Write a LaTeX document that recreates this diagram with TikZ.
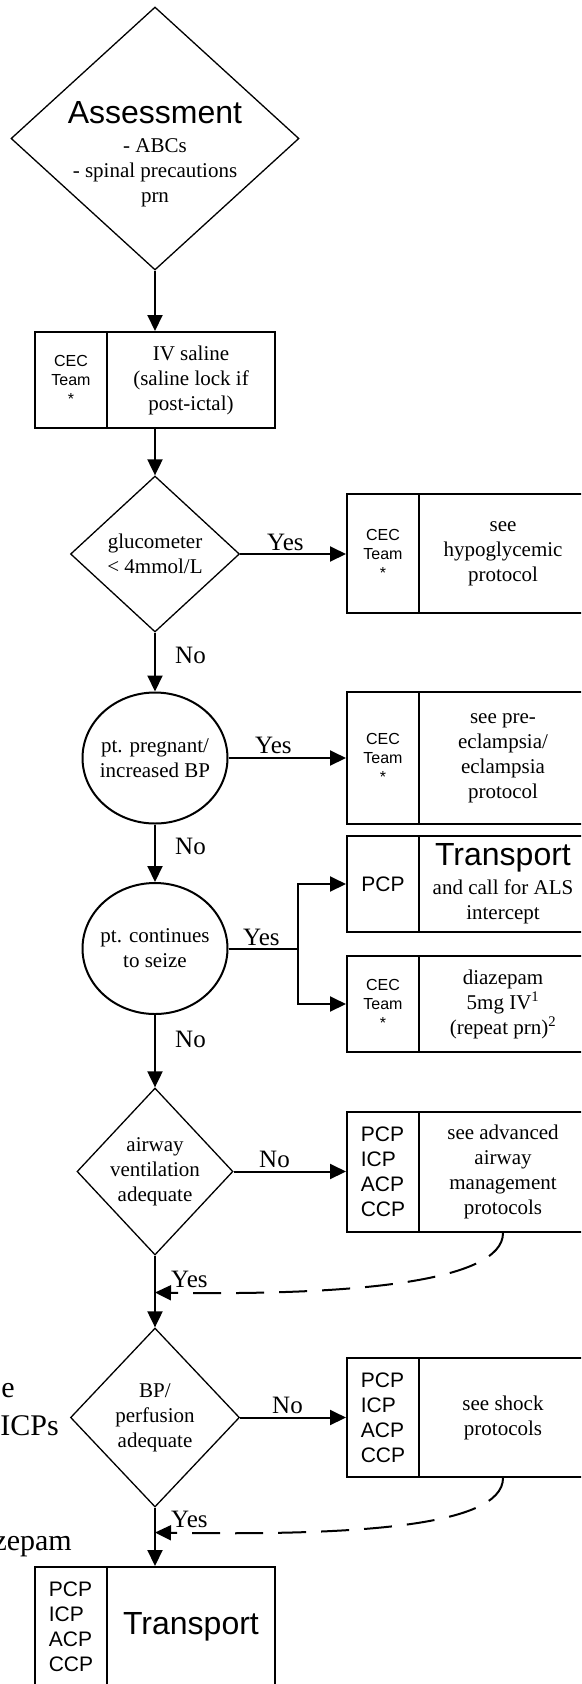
\documentclass[tikz,border=0pt]{standalone}
\usepackage{fontspec}
\setmainfont{Liberation Serif}
\setsansfont{Liberation Sans}
\usetikzlibrary{shapes.geometric,arrows.meta}

\tikzset{
	flow/.style={draw, line width=2pt, -{Triangle[length=16pt,width=15pt]}},
	backflow/.style={flow, dash pattern=on 28pt off 15pt},
	decision/.style={diamond, draw, line width=1.3pt, inner sep=0pt},
	query/.style={ellipse, draw, line width=2pt, inner sep=0pt, minimum width=145pt, minimum height=131pt},
	who/.style={rectangle, draw, line width=2pt, inner sep=0pt, minimum width=72pt, align=left, font=\sffamily\fontsize{21}{25}\selectfont},
	cec/.style={who, align=center, font=\sffamily\fontsize{16}{19}\selectfont},
	todo/.style={rectangle, draw, line width=2pt, inner sep=0pt, minimum width=168pt, align=center, font=\fontsize{21}{25}\selectfont},
	txt/.style={align=center, font=\fontsize{21}{25}\selectfont},
	answer/.style={anchor=base west, inner sep=0pt, font=\fontsize{25}{30}\selectfont},
	cut/.style={anchor=base east, inner sep=0pt, font=\fontsize{30}{38}\selectfont},
}

\begin{document}
\begin{tikzpicture}[x=1pt,y=-1pt]
	\fill[white] (0,0) rectangle (581,1684);
	\useasboundingbox (0,0) rectangle (581,1684);
	\clip (0,0) rectangle (581,1684);
	
	% main column
	\node[decision, minimum width=288pt, minimum height=263pt] (assess) at (155,138.5) {};
	\node[txt] (assess-txt) at (155,154) {{\sffamily\fontsize{32}{38}\selectfont Assessment}\\[4pt]- ABCs\\- spinal precautions\\prn};
	
	\node[cec, minimum height=96pt] (iv-team) at (71,380) {CEC\\Team\\*};
	\node[todo, minimum height=96pt] (iv) at (191,380) {IV saline\\(saline lock if\\post-ictal)};
	
	\node[decision, minimum width=169pt, minimum height=156pt] (gluco) at (155,554) {};
	\node[txt] (gluco-txt) at (gluco) {glucometer\\< 4mmol/L};
	
	\node[query] (preg) at (155,758) {};
	\node[txt] (preg-txt) at (preg) {pt. pregnant/\\increased BP};
	
	\node[query] (seize) at (155,948.5) {};
	\node[txt] (seize-txt) at (seize) {pt. continues\\to seize};
	
	\node[decision, minimum width=156pt, minimum height=167pt] (airway) at (155,1171.5) {};
	\node[txt] (airway-txt) at (airway) {airway\\ventilation\\adequate};
	
	\node[decision, minimum width=169pt, minimum height=179pt] (bp) at (155,1417.5) {};
	\node[txt] (bp-txt) at (bp) {BP/\\perfusion\\adequate};
	
	\node[who, minimum height=120pt] (final-team) at (71,1627) {PCP\\ICP\\ACP\\CCP};
	\node[todo, minimum height=120pt, font=\sffamily\fontsize{32}{38}\selectfont] (final) at (191,1627) {Transport};
	
	% side boxes
	\node[cec, minimum height=119pt] (hypo-team) at (383,553.5) {CEC\\Team\\*};
	\node[todo, minimum height=119pt] (hypo) at (503,553.5) {see\\hypoglycemic\\protocol};
	
	\node[cec, minimum height=132pt] (eclamp-team) at (383,758) {CEC\\Team\\*};
	\node[todo, minimum height=132pt] (eclamp) at (503,758) {see pre-\\eclampsia/\\eclampsia\\protocol};
	
	\node[who, minimum height=96pt] (trans-team) at (383,884) {PCP};
	\node[todo, minimum height=96pt] (trans) at (503,884) {{\sffamily\fontsize{32}{38}\selectfont Transport}\\[4pt]and call for ALS\\intercept};
	
	\node[cec, minimum height=96pt] (diaz-team) at (383,1004) {CEC\\Team\\*};
	\node[todo, minimum height=96pt] (diaz) at (503,1004) {diazepam\\5mg IV\textsuperscript{1}\\(repeat prn)\textsuperscript{2}};
	
	\node[who, minimum height=120pt] (airway-team) at (383,1172) {PCP\\ICP\\ACP\\CCP};
	\node[todo, minimum height=120pt] (airway-ref) at (503,1172) {see advanced\\airway\\management\\protocols};
	
	\node[who, minimum height=119pt] (shock-team) at (383,1417.5) {PCP\\ICP\\ACP\\CCP};
	\node[todo, minimum height=119pt] (shock) at (503,1417.5) {see shock\\protocols};
	
	% text cut off at the left edge
	\foreach \x/\y/\t [count=\i] in {15/1397/e, 59/1435/ICPs, 72/1550/zepam}{
		\node[cut] (cut-\i) at (\x,\y) {\t};
	}
	
	% connectors
	\draw[flow] (assess.south) -- (assess.south |- iv.north);
	\draw[flow] (gluco.north |- iv.south) -- (gluco.north);
	\draw[flow] (gluco.east) -- (gluco.east -| hypo-team.west);
	\draw[flow] (gluco.south) -- (preg.north);
	\draw[flow] (preg.east) -- (preg.east -| eclamp-team.west);
	\draw[flow] (preg.south) -- (seize.north);
	\coordinate (fork) at (298,948.5);
	\draw[flow] (seize.east) -- (fork) |- (trans-team.west);
	\draw[flow] (fork) |- (diaz-team.west);
	\draw[flow] (seize.south) -- (airway.north);
	\draw[flow] (airway.east) -- (airway.east -| airway-team.west);
	\draw[flow] (airway.south) -- (bp.north);
	\draw[flow] (bp.east) -- (bp.east -| shock-team.west);
	\draw[flow] (bp.south) -- (bp.south |- final.north);
	
	\coordinate (air-join) at (155,1292.5);
	\coordinate (bp-join) at (155,1532.5);
	\foreach \from/\to in {airway-ref/air-join, shock/bp-join}{
		\draw[backflow] (\from.south) .. controls +(0,50) and +(190,3) .. (\to);
	}
	
	\foreach \x/\y/\t [count=\i] in {267/550/Yes, 175/663/No, 255/753/Yes, 175/854/No, 243/945/Yes, 175/1047/No, 259/1167/No, 171/1287/Yes, 272/1413/No, 171/1527/Yes}{
		\node[answer] (ans-\i) at (\x,\y) {\t};
	}
\end{tikzpicture}
\end{document}
